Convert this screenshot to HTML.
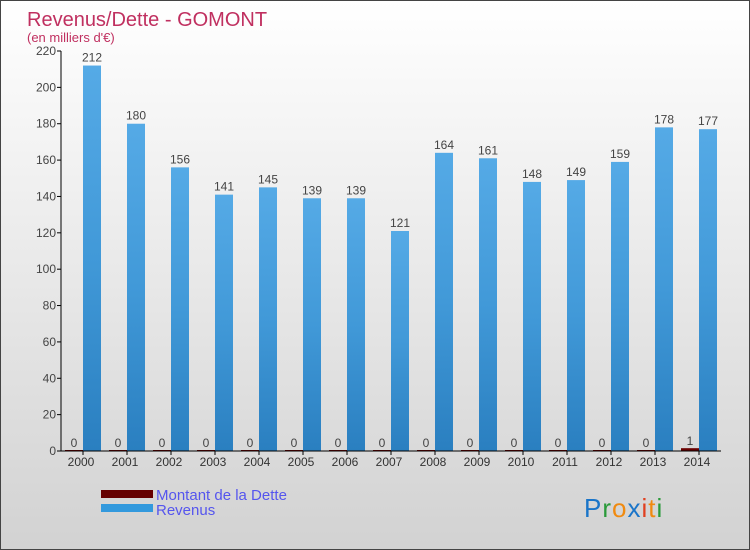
<!DOCTYPE html>
<html><head><meta charset="utf-8"><style>
body{margin:0}
#c{width:750px;height:550px;position:relative;box-sizing:border-box;border:1px solid #444;background:linear-gradient(#fff,#d2d2d2);font-family:"Liberation Sans",sans-serif;overflow:hidden}
</style></head><body>
<div id="c">
<svg id="s" width="750" height="550" style="position:absolute;left:0;top:0">
<defs><linearGradient id="bg" x1="0" x2="0" y1="0" y2="1"><stop offset="0" stop-color="#55aae6"/><stop offset="0.5" stop-color="#4199d8"/><stop offset="1" stop-color="#2a7fc0"/></linearGradient></defs>
<text x="26" y="25" font-size="20" fill="#c03060">Revenus/Dette - GOMONT</text>
<text x="26" y="41" font-size="13" fill="#c03060">(en milliers d'€)</text>
<rect x="100" y="489" width="52" height="8" fill="#600"/>
<rect x="100" y="503" width="52" height="8" fill="#3399dd"/>
<text x="155" y="499" font-size="15" fill="#5555ee">Montant de la Dette</text>
<text x="155" y="514" font-size="15" fill="#5555ee">Revenus</text>
<text x="583" y="516" font-size="26" letter-spacing="1"><tspan fill="#1a75c9">P</tspan><tspan fill="#2a9a3a">r</tspan><tspan fill="#f08a10">o</tspan><tspan fill="#1a75c9">x</tspan><tspan fill="#e04020">i</tspan><tspan fill="#f08a10">t</tspan><tspan fill="#2a9a3a">i</tspan></text>
<g id="g"></g>
</svg>
</div>
<script>
const years=["2000","2001","2002","2003","2004","2005","2006","2007","2008","2009","2010","2011","2012","2013","2014"];
const revenus=[212,180,156,141,145,139,139,121,164,161,148,149,159,178,177];
const dette=[0,0,0,0,0,0,0,0,0,0,0,0,0,0,1];
const yTicks=[0,20,40,60,80,100,120,140,160,180,200,220];
const NS="http://www.w3.org/2000/svg",g=document.getElementById('g');
const x0=60,x1=720,y0=450,y1=50,ymax=220,step=(x1-x0)/years.length,bw=18;
const Y=v=>y0-(v/ymax)*(y0-y1),X=i=>x0+step*(i+0.5);
function mk(t,a,txt){const e=document.createElementNS(NS,t);for(const k in a)e.setAttribute(k,a[k]);if(txt!=null)e.textContent=txt;g.appendChild(e);return e;}
years.forEach((yr,i)=>{
 let r=mk('rect',{x:X(i),y:Y(revenus[i]),width:bw,height:y0-Y(revenus[i]),fill:'url(#bg)'});
 
 
 let d=mk('rect',{x:X(i)-bw,y:Y(dette[i])-1,width:bw,height:y0-Y(dette[i])+1,fill:'#6a0000'});
 
 
 let t=mk('text',{x:X(i)+bw/2,y:Y(revenus[i])-4,'font-size':12,fill:'#444','text-anchor':'middle'},revenus[i]);
 
 
 let t2=mk('text',{x:X(i)-bw/2,y:Y(dette[i])-4,'font-size':12,fill:'#444','text-anchor':'middle'},dette[i]);
 
 
 let l=mk('text',{x:X(i)-2,y:y0+15,'font-size':12,fill:'#333','text-anchor':'middle'},yr);
 
 
 mk('line',{x1:X(i),x2:X(i),y1:y0,y2:y0+4,stroke:'#000'});
});
yTicks.forEach(v=>{
 mk('line',{x1:x0-4,x2:x0,y1:Y(v),y2:Y(v),stroke:'#000'});
 let t=mk('text',{x:x0-5,y:Y(v)+4,'font-size':12,fill:'#444','text-anchor':'end'},v);
 
 
});
let ax=mk('line',{x1:x0,x2:x0,y1:y1,y2:y0,stroke:'#000'});


let bx=mk('line',{x1:x0,x2:x1,y1:y0,y2:y0,stroke:'#000'});


</script>
</body></html>
